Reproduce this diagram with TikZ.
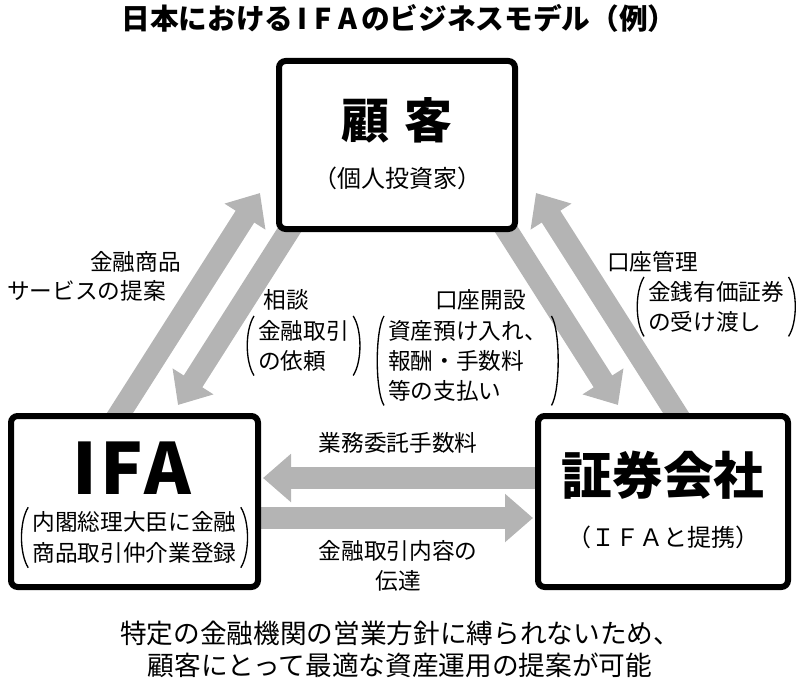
\documentclass[tikz,border=0pt]{standalone}
\usepackage{fontspec}
\setmainfont{Noto Sans CJK JP}
\usetikzlibrary{arrows.meta,calc,backgrounds}
\definecolor{arrgray}{RGB}{180,180,180}
\newcommand\pgroup[1]{%
 \draw[paren] ($(#1.north west)+(-4,-4)$) .. controls ($(#1.north west)+(-13,10)$) and ($(#1.south west)+(-13,-10)$) .. ($(#1.south west)+(-4,4)$);
 \draw[paren] ($(#1.north east)+(4,-4)$) .. controls ($(#1.north east)+(13,10)$) and ($(#1.south east)+(13,-10)$) .. ($(#1.south east)+(4,4)$);}
\begin{document}
\begin{tikzpicture}[x=0.75pt,y=-0.75pt,
  box/.style={draw=black,line width=4.5pt,rounded corners=5pt,fill=white,inner sep=0pt},
  garrow/.style={draw=arrgray,line width=16.5pt,-{Triangle[length=21pt,width=35pt]}},
  lbl/.style={inner sep=0pt,font=\fontsize{17}{22.5}\selectfont},
  grp/.style={lbl,align=left},
  paren/.style={line width=1pt,black}]
\useasboundingbox (0,0) rectangle (800,685);
\node[inner sep=0pt,font=\bfseries\fontsize{21.5}{25}\selectfont] (title) at (399,18) {日本における\hspace{0.12em}I\hspace{0.25em}F\hspace{0.25em}A\hspace{0.12em}のビジネスモデル（例）};
\node[box,minimum width=177pt,minimum height=126pt] (cust) at (397,145) {};
\node[box,minimum width=185.25pt,minimum height=128.25pt] (ifa) at (134.5,501.5) {};
\node[box,minimum width=187.5pt,minimum height=128.25pt] (sec) at (663,501.5) {};
\node[inner sep=0pt,font=\bfseries\fontsize{36}{40}\selectfont] (custname) at (397,120) {顧\hspace{0.3em}客};
\node[inner sep=0pt,font=\fontsize{18}{22}\selectfont] (custsub) at (397,178) {（個人投資家）};
\node[inner sep=0pt,font=\bfseries\fontsize{53}{60}\selectfont] (ifaname) at (132,468) {I\hspace{0.04em}F\hspace{0.02em}A};
\node[grp,align=center,font=\fontsize{17}{23.25}\selectfont] (ifasub) at (134.5,537.5) {内閣総理大臣に金融\\商品取引仲介業登録};
\node[inner sep=0pt,font=\bfseries\fontsize{38}{42}\selectfont] (secname) at (663,475) {証券会社};
\node[inner sep=0pt,font=\fontsize{18}{22}\selectfont] (secsub) at (663,537) {（ＩＦＡと提携）};
\begin{scope}[on background layer]
\draw[garrow] ($(ifa.north west)+(105.6,10)$) -- ($(cust.west)+(-16,48)$);
\draw[garrow] ($(cust.south west)+(18.4,-10)$) -- ($(ifa.north west)+(170,-8)$);
\draw[garrow] ($(cust.south east)+(-16.4,-10)$) -- ($(sec.north west)+(83,-8)$);
\draw[garrow] ($(sec.north east)+(-108.6,10)$) -- ($(cust.east)+(18,48)$);
\draw[garrow] ($(sec.west)+(10,-23.5)$) -- ($(ifa.east)+(2,-23.5)$);
\draw[garrow] ($(ifa.east)+(-10,16.5)$) -- ($(sec.west)+(-2,16.5)$);
\end{scope}
\node[lbl,anchor=east] (l1a) at (181,262) {金融商品};
\node[lbl,anchor=east] (l1b) at (166,291) {サービスの提案};
\node[lbl] (l2h) at (286,300) {相談};
\node[grp,anchor=north west] (l2) at (258,320) {金融取引\\の依頼};
\node[lbl,anchor=east] (l3h) at (526,300) {口座開設};
\node[grp,anchor=north west] (l3) at (388,320) {資産預け入れ、\\報酬・手数料\\等の支払い};
\node[lbl,anchor=west] (l4h) at (607,262) {口座管理};
\node[grp,anchor=north west] (l4) at (648,281) {金銭有価証券\\の受け渡し};
\node[lbl] (l5) at (398,443) {業務委託手数料};
\node[grp,align=center] (l6) at (398,566) {金融取引内容の\\伝達};
\node[inner sep=0pt,align=center,font=\fontsize{20}{24}\selectfont] (foot) at (400,649) {特定の金融機関の営業方針に縛られないため、\\顧客にとって最適な資産運用の提案が可能};
\pgroup{l2}
\pgroup{l3}
\pgroup{l4}
\pgroup{ifasub}
\end{tikzpicture}
\end{document}
